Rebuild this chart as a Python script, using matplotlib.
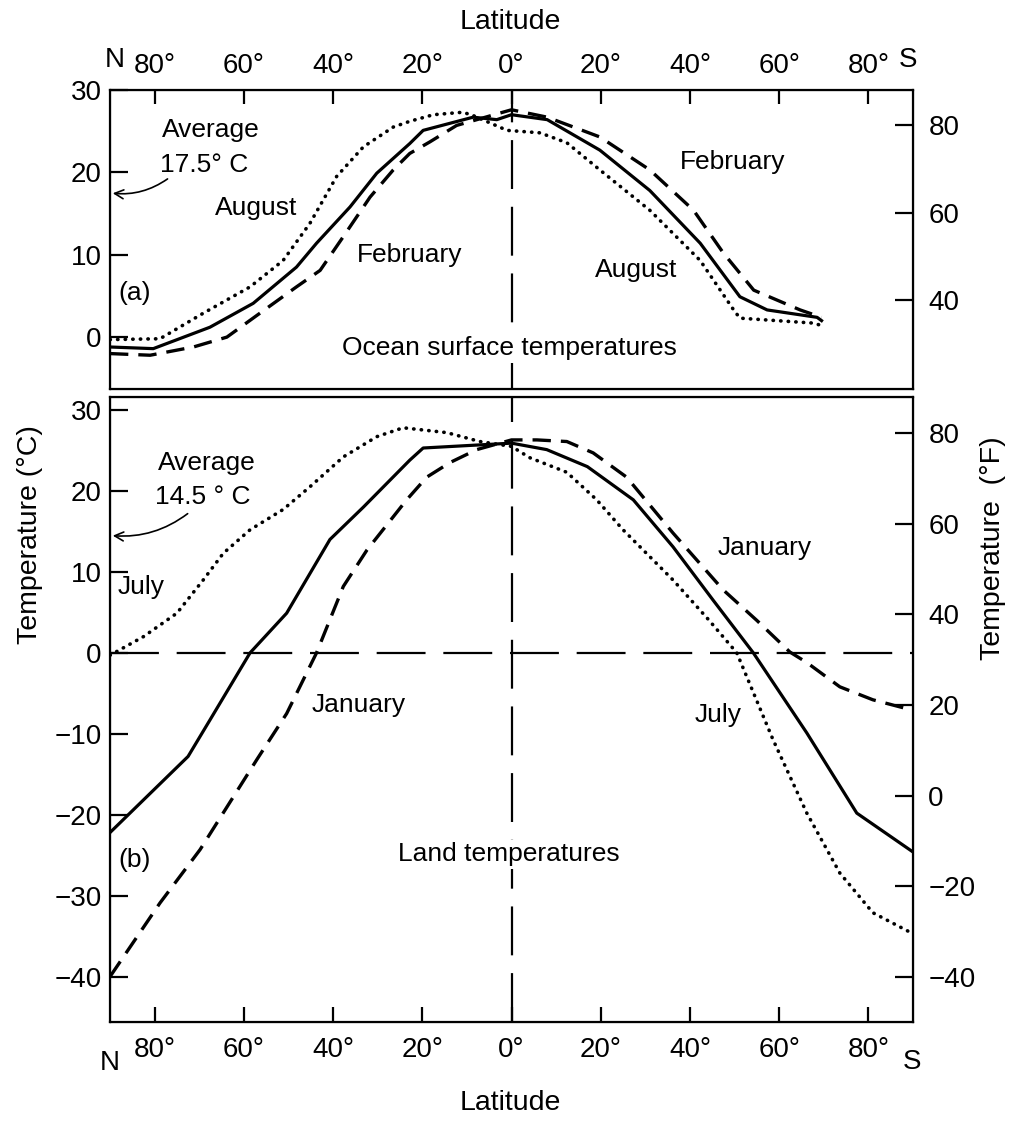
import matplotlib
matplotlib.use("agg")

import matplotlib.pyplot as plt
import numpy as np

plt.rcParams["font.family"] = ["Liberation Sans", "DejaVu Sans"]

# latitude: negative = north, positive = south
# (a) ocean surface temperatures, deg C
ocean_annual_lat = [-90, -80.3, -67.6, -57.9, -48.2, -43.7, -36.2, -30.2, -22.8, -19.8, -8.6, -3.3, 0,
                    8, 19.8, 31, 42.3, 51.2, 57.3, 68.5, 69.5]
ocean_annual = [-1.2, -1.4, 1.2, 4.1, 8.5, 11.4, 15.8, 19.9, 23.5, 25.1, 26.7, 26.4, 27.0,
                26.4, 22.7, 17.8, 11.4, 4.9, 3.3, 2.4, 2.0]

ocean_aug_lat = [-90, -78.8, -69.1, -58.6, -51.2, -45.2, -39.2, -33.2, -26.5, -22.8, -17.5, -10.9, -8.6,
                 -1, 6.4, 12.4, 19.8, 31, 42.3, 49.8, 51.2, 67.7, 69.5]
ocean_aug = [-0.3, -0.2, 2.9, 6.1, 9.3, 13.8, 19.5, 23.1, 25.5, 26.2, 27.0, 27.3, 26.9,
             25.1, 24.8, 23.6, 20.3, 15.4, 9.3, 3.3, 2.3, 1.7, 1.4]

ocean_feb_lat = [-90, -81, -71.3, -63.8, -56.4, -48.2, -42.9, -37.7, -31.7, -26.5, -22.8, -18.3, -12.3, 0,
                 8, 19.8, 31, 40.8, 47.5, 54.3, 64.7, 69.5]
ocean_feb = [-2.0, -2.2, -1.2, 0.0, 2.9, 6.1, 8.1, 12.2, 17.0, 20.3, 22.3, 23.7, 25.7, 27.6,
             26.7, 24.3, 20.3, 15.4, 10.2, 5.7, 3.3, 2.4]

# (b) land temperatures, deg C
land_annual_lat = [-90, -72.5, -67.6, -58.6, -50.4, -40.7, -33.2, -22.8, -19.8, 0,
                   7.9, 17, 27.3, 36.2, 45.2, 54.2, 66.2, 77.4, 90]
land_annual = [-22.2, -12.8, -8.3, 0.0, 4.9, 14.0, 18.0, 23.8, 25.3, 25.9,
               25.1, 23.0, 18.9, 13.1, 6.5, 0.0, -9.9, -19.8, -24.6]

land_jul_lat = [-90, -82.5, -75, -69.1, -64.6, -58.6, -51.2, -45.2, -37.7, -30.2, -24.3, -14.5, -7.1, 0,
                4.1, 12.4, 19.1, 25, 36.2, 44, 50.5, 58.6, 66.2, 73.6, 81, 90]
land_jul = [-0.3, 2.0, 4.9, 9.0, 12.3, 15.2, 17.7, 20.5, 24.2, 26.7, 27.8, 27.2, 26.1, 25.5,
            24.1, 22.3, 18.9, 15.2, 9.0, 4.2, 0.0, -10.7, -19.8, -27.2, -32.1, -34.7]

land_jan_lat = [-90, -78.8, -69.8, -57.1, -50.4, -43.7, -37.7, -32.4, -23.5, -19, -13.8, -7.8, 0,
                5.7, 12.4, 18.3, 25.8, 36.2, 47.4, 55, 62.4, 66.2, 73.6, 81, 90]
land_jan = [-40.0, -30.9, -24.3, -13.2, -7.5, 0.0, 8.2, 12.7, 18.9, 21.7, 23.5, 25.1, 26.3,
            26.3, 26.1, 24.7, 21.7, 14.8, 7.8, 4.0, 0.1, -1.2, -4.2, -5.8, -7.1]

lat_ticks = [-80, -60, -40, -20, 0, 20, 40, 60, 80]
lat_labels = ["80°", "60°", "40°", "20°", "0°", "20°", "40°", "60°", "80°"]

W, H = 1009, 1123
fig = plt.figure(figsize=(W / 100, H / 100), dpi=100)

ax1 = fig.add_axes([110 / W, 1 - 389 / H, 803 / W, 299 / H])
ax2 = fig.add_axes([110 / W, 1 - 1022 / H, 803 / W, 625 / H])

FS = 19        # annotation text
TS = 20        # tick labels
LS = 20.5      # axis labels
solid = dict(color="black", lw=2.3, solid_joinstyle="round")
dotted = dict(color="black", lw=2.6, linestyle=(0, (0.1, 2.0)), dash_capstyle="round")
dashed = dict(color="black", lw=2.4, linestyle=(0, (5.5, 3.0)))
refline = dict(color="black", lw=1.6, linestyle=(0, (22, 8)))

for ax in (ax1, ax2):
    for sp in ax.spines.values():
        sp.set_linewidth(1.6)
    ax.set_xlim(-90, 90)
    ax.set_xticks(lat_ticks)
    ax.set_xticklabels(lat_labels)
    ax.axvline(0, **refline)

# ---- (a) ocean
ax1.plot(ocean_annual_lat, ocean_annual, **solid)
ax1.plot(ocean_aug_lat, ocean_aug, **dotted)
ax1.plot(ocean_feb_lat, ocean_feb, **dashed)
ax1.set_ylim(-6.3, 30)
ax1.set_yticks([0, 10, 20, 30])
ax1.xaxis.tick_top()
ax1.tick_params(axis="x", direction="in", length=10, width=1.6, labelsize=TS, pad=8)
ax1.tick_params(axis="y", direction="in", length=13, width=1.6, labelsize=TS, pad=6)

ax1f = ax1.twinx()
ax1f.set_ylim(19.7, 88.0)
ax1f.set_yticks([40, 60, 80])
ax1f.tick_params(axis="y", direction="in", length=13, width=1.6, labelsize=TS, pad=11)

ax1.text(-78.4, 25.1, "Average", fontsize=FS, va="center")
ax1.text(-78.8, 20.9, "17.5° C", fontsize=FS, va="center")
ax1.annotate("", xy=(-90, 17.5), xytext=(-76.6, 19.4),
             arrowprops=dict(arrowstyle="->", lw=1.2, mutation_scale=16,
                             connectionstyle="arc3,rad=-0.2"))
ax1.text(-66.5, 15.7, "August", fontsize=FS, va="center")
ax1.text(-34.6, 10.0, "February", fontsize=FS, va="center")
ax1.text(-88.2, 5.3, "(a)", fontsize=FS, va="center")
ax1.text(37.8, 21.3, "February", fontsize=FS, va="center")
ax1.text(18.7, 8.1, "August", fontsize=FS, va="center")
ax1.text(-0.5, -1.3, "Ocean surface temperatures", fontsize=FS, ha="center", va="center",
         bbox=dict(facecolor="white", edgecolor="none", pad=2))

# ---- (b) land
ax2.axhline(0, **refline)
ax2.plot(land_annual_lat, land_annual, **solid)
ax2.plot(land_jul_lat, land_jul, **dotted)
ax2.plot(land_jan_lat, land_jan, **dashed)
ax2.set_ylim(-45.6, 31.6)
ax2.set_yticks([30, 20, 10, 0, -10, -20, -30, -40])
ax2.tick_params(axis="x", direction="in", length=11, width=1.6, labelsize=TS, pad=11)
ax2.tick_params(axis="y", direction="in", length=13, width=1.6, labelsize=TS, pad=6)
ax2.set_ylabel("Temperature (°C)", fontsize=LS)
ax2.yaxis.set_label_coords((43 - 110) / 803, (1022 - 535) / 625)

ax2f = ax2.twinx()
ax2f.set_ylim(-49.9, 87.9)
ax2f.set_yticks([80, 60, 40, 20, 0, -20, -40])
ax2f.tick_params(axis="y", direction="in", length=13, width=1.6, labelsize=TS, pad=11)
ax2f.set_ylabel("Temperature  (°F)", fontsize=LS)
ax2f.yaxis.set_label_coords((980 - 110) / 803, (1022 - 548) / 625)

ax2.text(-79.3, 23.5, "Average", fontsize=FS, va="center")
ax2.text(-79.9, 19.3, "14.5 ° C", fontsize=FS, va="center")
ax2.annotate("", xy=(-90, 14.5), xytext=(-72.1, 17.4),
             arrowprops=dict(arrowstyle="->", lw=1.2, mutation_scale=16,
                             connectionstyle="arc3,rad=-0.2"))
ax2.text(-88.2, 8.1, "July", fontsize=FS, va="center")
ax2.text(-44.7, -6.4, "January", fontsize=FS, va="center")
ax2.text(46.3, 13.0, "January", fontsize=FS, va="center")
ax2.text(41.1, -7.7, "July", fontsize=FS, va="center")
ax2.text(-88.2, -25.6, "(b)", fontsize=FS, va="center")
ax2.text(-0.5, -24.9, "Land temperatures", fontsize=FS, ha="center", va="center",
         bbox=dict(facecolor="white", edgecolor="none", pad=2))

# latitude titles and hemisphere letters
fig.text(510 / W, 1 - 22 / H, "Latitude", fontsize=LS, ha="center", va="center")
fig.text(510 / W, 1 - 1103 / H, "Latitude", fontsize=LS, ha="center", va="center")
fig.text(115 / W, 1 - 60 / H, "N", fontsize=TS, ha="center", va="center")
fig.text(908 / W, 1 - 60 / H, "S", fontsize=TS, ha="center", va="center")
fig.text(110 / W, 1 - 1063 / H, "N", fontsize=TS, ha="center", va="center")
fig.text(912 / W, 1 - 1062 / H, "S", fontsize=TS, ha="center", va="center")

fig.savefig("out.png", dpi=100)
